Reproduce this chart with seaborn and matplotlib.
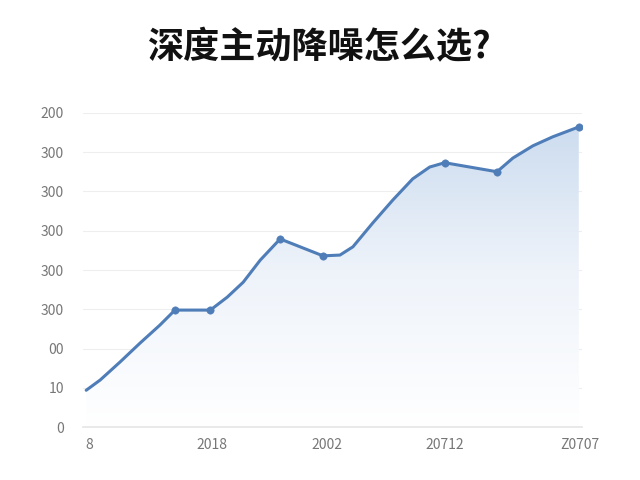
import numpy as np
import pandas as pd
import matplotlib
matplotlib.use("Agg")
import matplotlib.pyplot as plt
import seaborn as sns
from matplotlib.patches import Polygon

sns.set_theme(style="white")
plt.rcParams['font.family'] = ['Noto Sans CJK SC', 'DejaVu Sans']

# Values (x on a 0-100 scale, y on a 0-8 grid scale)
line_x = [0.6, 3.4, 7.4, 11.4, 15.4, 18.4, 25.5, 28.9, 32.1, 35.5, 39.5,
          43.5, 48.1, 51.5, 54.1, 58.1, 62.1, 66.1, 69.5, 72.5, 83.0,
          86.2, 90.2, 94.2, 99.4]
line_y = [0.94, 1.20, 1.66, 2.14, 2.60, 2.98, 2.98, 3.31, 3.69, 4.25, 4.79,
          4.59, 4.36, 4.38, 4.59, 5.20, 5.78, 6.32, 6.62, 6.73, 6.50,
          6.85, 7.16, 7.39, 7.64]
marker_x = [18.4, 25.5, 39.5, 48.1, 72.5, 83.0, 99.4]
marker_y = [2.98, 2.98, 4.79, 4.36, 6.73, 6.50, 7.64]

x_tick_pos = [1.2, 25.9, 48.9, 72.5, 99.6]
x_tick_labels = ['8', '2018', '2002', '20712', 'Z0707']
y_tick_labels = ['0', '10', '00', '300', '300', '300', '300', '300', '200']

title = '深度主动降噪怎么选?'
line_color = '#4f7db8'

df_line = pd.DataFrame({'x': line_x, 'y': line_y})
df_pts = pd.DataFrame({'x': marker_x, 'y': marker_y})

fig = plt.figure(figsize=(6.4, 4.8), dpi=100)
ax = fig.add_axes([0.13, 0.11, 0.779, 0.655])

# gradient fill under the line
grad = np.linspace(0, 1, 256).reshape(-1, 1)
cmap = matplotlib.colors.LinearSegmentedColormap.from_list(
    'fade', ['#ffffff', '#eef3fa', '#c9daee'])
im = ax.imshow(grad, aspect='auto', cmap=cmap, origin='lower',
               extent=[line_x[0], line_x[-1], 0, 8], zorder=1)
verts = [(line_x[0], 0)] + list(zip(line_x, line_y)) + [(line_x[-1], 0)]
clip = Polygon(verts, closed=True, transform=ax.transData, facecolor='none', edgecolor='none')
ax.add_patch(clip)
im.set_clip_path(clip)

sns.lineplot(data=df_line, x='x', y='y', ax=ax, color=line_color,
             linewidth=2.2, sort=False, zorder=3)
sns.scatterplot(data=df_pts, x='x', y='y', ax=ax, color=line_color,
                s=28, edgecolor=line_color, zorder=4)

ax.set_xlim(0, 100)
ax.set_ylim(0, 8)
ax.set_yticks(range(9))
ax.set_yticklabels(y_tick_labels)
ax.set_xticks(x_tick_pos)
ax.set_xticklabels(x_tick_labels)
ax.set_xlabel('')
ax.set_ylabel('')
ax.tick_params(axis='both', colors='#777777', labelsize=10, length=0)
ax.tick_params(axis='x', pad=8)
ax.tick_params(axis='y', pad=14)
ax.grid(axis='y', color='#eeeeee', linewidth=0.8)
ax.set_axisbelow(True)
for side in ['top', 'right', 'left']:
    ax.spines[side].set_visible(False)
ax.spines['bottom'].set_color('#e6e6e6')

fig.text(0.5, 0.9, title, ha='center', va='center', fontsize=26,
         fontweight='bold', color='#111111')

fig.savefig('out.png', dpi=100, facecolor='white')
